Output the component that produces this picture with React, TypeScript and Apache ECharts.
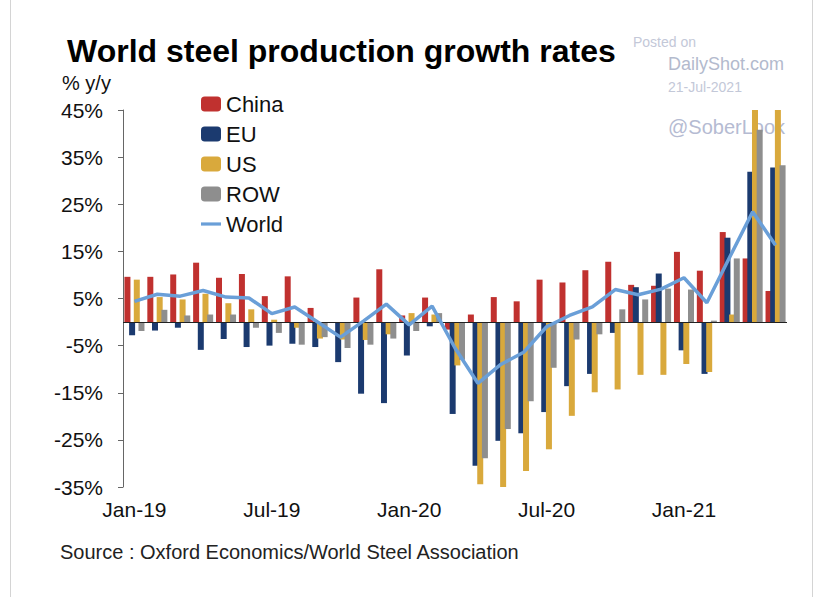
import React, { useEffect, useRef } from 'react';
import * as echarts from 'echarts';

const months = [
  'Jan-19', 'Feb-19', 'Mar-19', 'Apr-19', 'May-19', 'Jun-19', 'Jul-19', 'Aug-19', 'Sep-19', 'Oct-19', 'Nov-19', 'Dec-19',
  'Jan-20', 'Feb-20', 'Mar-20', 'Apr-20', 'May-20', 'Jun-20', 'Jul-20', 'Aug-20', 'Sep-20', 'Oct-20', 'Nov-20', 'Dec-20',
  'Jan-21', 'Feb-21', 'Mar-21', 'Apr-21', 'May-21',
];
const yTickLabels = ['-35%', '-25%', '-15%', '-5%', '5%', '15%', '25%', '35%', '45%'];

const china = [9.6, 9.6, 10.1, 12.6, 9.4, 10.2, 5.5, 9.7, 3.0, null, 5.2, 11.2, 1.4, 5.2, -1.6, 1.6, 5.3, 4.4, 9.0, 8.4, 11.0, 12.8, 7.9, 7.7, 14.9, 10.9, 19.1, 13.5, 6.6];
const eu = [-2.8, -1.8, -1.2, -5.9, -3.6, -5.3, -5.0, -4.6, -5.3, -8.5, -15.2, -17.2, -7.1, -0.9, -19.5, -30.5, -25.2, -23.6, -19.1, -13.6, -11.0, -2.3, 7.4, 10.3, -6.0, -11.0, 17.9, 31.9, 32.8];
const us = [9.0, 5.3, 4.8, 6.0, 4.0, 2.7, 0.5, -1.2, -3.5, -3.7, -3.8, -2.6, 1.9, 1.6, -9.2, -34.4, -35.1, -31.6, -27.0, -19.9, -14.9, -14.3, -11.2, -11.2, -8.9, -10.6, 1.6, 47, 47];
const rowVals = [-1.9, 2.6, 1.4, 1.6, 1.6, -1.2, -2.3, -4.8, -3.2, -5.5, -4.8, -3.5, -1.9, 1.9, -8.0, -28.9, -22.7, -16.8, -9.7, -3.7, -2.6, 2.7, 4.8, 7.1, 6.9, 0.3, 13.5, 40.8, 33.3];
const world = [4.4, 5.9, 5.5, 6.7, 5.3, 5.1, 1.8, 3.2, 0.0, -3.2, 0.2, 3.8, -0.6, 3.4, -5.5, -13.0, -9.0, -6.4, -1.0, 1.4, 3.2, 6.9, 5.8, 7.0, 9.4, 4.1, 13.8, 23.4, 16.3];

const FONT = '"Liberation Sans", Arial, Helvetica, sans-serif';

export default function App() {
  const ref = useRef<HTMLDivElement>(null);
  useEffect(() => {
    if (!ref.current) return;
    const chart = echarts.init(ref.current, undefined, { renderer: 'svg' });
    const bar = (name: string, data: any[], color: string) => ({
      name,
      type: 'bar',
      data,
      yAxisIndex: 0,
      barWidth: 6,
      barGap: '-22%',
      itemStyle: { color },
      clip: true,
    });
    const option: any = {
      animation: false,
      backgroundColor: '#ffffff',
      textStyle: { fontFamily: FONT },
      title: {
        text: 'World steel production growth rates',
        left: 62,
        top: 30,
        textStyle: { fontSize: 32, fontWeight: 'bold', color: '#000', fontFamily: FONT },
      },
      legend: {
        orient: 'vertical',
        left: 196,
        top: 88,
        itemWidth: 20,
        itemHeight: 15,
        itemGap: 8,
        textStyle: { fontSize: 22, color: '#111', fontFamily: FONT },
        data: [
          'China',
          'EU',
          'US',
          'ROW',
          { name: 'World', icon: 'path://M0,0H20V3.2H0Z' },
        ],
      },
      grid: { left: 123, right: 35, top: 110, bottom: 110, containLabel: false },
      xAxis: {
        type: 'category',
        data: months,
        axisLine: { show: false },
        axisTick: { show: false },
        axisLabel: { interval: 5, fontSize: 21, color: '#111', margin: 12, fontFamily: FONT },
        splitLine: { show: false },
      },
      yAxis: [
        { type: 'value', min: -35, max: 45, show: false },
        {
          type: 'category',
          data: yTickLabels,
          boundaryGap: false,
          position: 'left',
          axisLine: { show: true, lineStyle: { color: '#666', width: 1 } },
          axisTick: { show: true, length: 5, lineStyle: { color: '#666' } },
          axisLabel: { interval: 0, fontSize: 21, color: '#111', margin: 20, fontFamily: FONT },
          splitLine: { show: false },
        },
      ],
      series: [
        {
          ...bar('China', china, '#c0312f'),
          markLine: {
            silent: true,
            symbol: ['none', 'none'],
            label: { show: false },
            lineStyle: { color: '#222', width: 1, type: 'solid' },
            data: [{ yAxis: 0 }],
          },
        },
        bar('EU', eu, '#1b3a6f'),
        bar('US', us, '#d9a93c'),
        bar('ROW', rowVals, '#8e8e8e'),
        {
          name: 'World',
          type: 'line',
          data: world,
          yAxisIndex: 0,
          symbol: 'none',
          showSymbol: false,
          z: 5,
          lineStyle: { color: '#6a9fd8', width: 3.5 },
          itemStyle: { color: '#6a9fd8' },
        },
      ],
      graphic: [
        { type: 'line', shape: { x1: 10.5, y1: 0, x2: 10.5, y2: 597 }, style: { stroke: '#d4d4d4', lineWidth: 1 } },
        { type: 'line', shape: { x1: 812.5, y1: 0, x2: 812.5, y2: 597 }, style: { stroke: '#d4d4d4', lineWidth: 1 } },
        { type: 'text', left: 62, top: 73, style: { text: '% y/y', fill: '#111', fontSize: 20, fontFamily: FONT } },
        { type: 'text', left: 60, top: 542, style: { text: 'Source : Oxford Economics/World Steel Association', fill: '#222', fontSize: 20, fontFamily: FONT } },
        { type: 'text', left: 633, top: 35, style: { text: 'Posted on', fill: '#c3c8d8', fontSize: 14, fontFamily: FONT } },
        { type: 'text', left: 668, top: 55, style: { text: 'DailyShot.com', fill: '#b3bacd', fontSize: 18, fontFamily: FONT } },
        { type: 'text', left: 668, top: 80, style: { text: '21-Jul-2021', fill: '#c3c8d8', fontSize: 14, fontFamily: FONT } },
        { type: 'text', left: 668, top: 117, z: -1, style: { text: '@SoberLook', fill: '#b5bbd2', fontSize: 20, fontFamily: FONT } },
      ],
    };
    chart.setOption(option);
    return () => chart.dispose();
  }, []);
  return <div ref={ref} style={{ position: 'fixed', left: 0, top: 0, width: 822, height: 597 }} />;
}
